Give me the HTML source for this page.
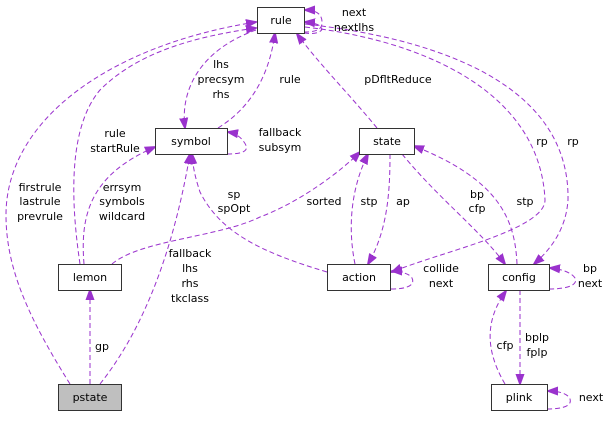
<!DOCTYPE html>
<html><head><meta charset="utf-8"><style>
html,body{margin:0;padding:0;background:#fff;}
svg text{font-family:"DejaVu Sans","Liberation Sans",sans-serif;font-size:11px;fill:#000;}
</style></head><body>
<svg width="609" height="416" viewBox="0 0 609 416" xmlns="http://www.w3.org/2000/svg">
<defs>
<marker id="a" markerWidth="11" markerHeight="10" refX="10" refY="5" orient="auto" markerUnits="userSpaceOnUse">
<path d="M0,1 L11,5 L0,9 Z" fill="#9a32cd" stroke="#9a32cd"/>
</marker>
</defs>
<g fill="none" stroke="#9a32cd" stroke-dasharray="5,3" stroke-width="1" marker-end="url(#a)">
<path d="M70,384 C30,320 6,270 6,215 C6,120 110,45 256,22"/>
<path d="M80,264 C72,210 66,130 100,90 C140,50 200,36 256,28"/>
<path d="M84,264 C80,215 90,175 155,147"/>
<path d="M256,30 C200,50 180,90 185,128"/>
<path d="M218,128 C255,105 270,70 275,33"/>
<path d="M227,154 C245,154 250,150 244,142 C240,136 234,133 228,132"/>
<path d="M304,32 C322,32 322,26 322,22 C322,14 316,10 305,10"/>
<path d="M304,33 C325,36 330,24 305,22"/>
<path d="M377,128 C350,95 320,65 297,34"/>
<path d="M305,27 C420,40 540,90 545,200 C545,230 440,252 392,272"/>
<path d="M305,24 C450,40 570,90 568,200 C566,230 550,250 534,264"/>
<path d="M112,264 C140,240 220,237 260,217 C300,202 340,172 360,152"/>
<path d="M355,264 C348,230 350,190 368,154"/>
<path d="M390,154 C390,190 388,230 368,264"/>
<path d="M402,154 C440,200 480,230 505,264"/>
<path d="M517,264 C515,220 500,180 414,146"/>
<path d="M100,384 C135,340 170,270 190,154"/>
<path d="M327,272 C260,252 220,232 200,192 C195,177 193,167 192,154"/>
<path d="M391,289 C410,289 415,284 412,278 C410,274 400,271 392,271"/>
<path d="M549,289 C570,289 578,284 575,278 C572,273 562,269 550,268"/>
<path d="M520,290 L520,384"/>
<path d="M505,384 C485,350 485,320 506,291"/>
<path d="M547,409 C565,409 572,405 570,399 C568,394 560,391 548,391"/>
<path d="M90,384 L90,290"/>
</g>
<g stroke="#333" stroke-width="1" fill="#fff">
<rect x="257.5" y="7.5" width="47" height="26"/>
<rect x="155.5" y="128.5" width="72" height="26"/>
<rect x="359.5" y="128.5" width="55" height="26"/>
<rect x="58.5" y="264.5" width="63" height="26"/>
<rect x="327.5" y="264.5" width="63" height="26"/>
<rect x="488.5" y="264.5" width="61" height="26"/>
<rect x="58.5" y="384.5" width="63" height="26" fill="#bfbfbf"/>
<rect x="491.5" y="384.5" width="56" height="26"/>
</g>
<g text-anchor="middle">
<text x="281" y="24">rule</text>
<text x="191" y="145">symbol</text>
<text x="387" y="145">state</text>
<text x="90" y="281">lemon</text>
<text x="359" y="281">action</text>
<text x="519" y="281">config</text>
<text x="90" y="401">pstate</text>
<text x="519" y="401">plink</text>
<text x="354" y="16">next</text>
<text x="354" y="31">nextlhs</text>
<text x="221" y="68">lhs</text>
<text x="221" y="83">precsym</text>
<text x="221" y="98">rhs</text>
<text x="290" y="83">rule</text>
<text x="398" y="83">pDfltReduce</text>
<text x="115" y="137">rule</text>
<text x="115" y="152">startRule</text>
<text x="280" y="136">fallback</text>
<text x="280" y="151">subsym</text>
<text x="542" y="145">rp</text>
<text x="573" y="145">rp</text>
<text x="40" y="191">firstrule</text>
<text x="40" y="205">lastrule</text>
<text x="40" y="220">prevrule</text>
<text x="122" y="191">errsym</text>
<text x="122" y="205">symbols</text>
<text x="122" y="220">wildcard</text>
<text x="234" y="198">sp</text>
<text x="234" y="212">spOpt</text>
<text x="324" y="205">sorted</text>
<text x="369" y="205">stp</text>
<text x="403" y="205">ap</text>
<text x="477" y="198">bp</text>
<text x="477" y="212">cfp</text>
<text x="525" y="205">stp</text>
<text x="190" y="257">fallback</text>
<text x="190" y="272">lhs</text>
<text x="190" y="287">rhs</text>
<text x="190" y="302">tkclass</text>
<text x="441" y="272">collide</text>
<text x="441" y="287">next</text>
<text x="590" y="272">bp</text>
<text x="590" y="287">next</text>
<text x="102" y="350">gp</text>
<text x="505" y="349">cfp</text>
<text x="537" y="341">bplp</text>
<text x="537" y="356">fplp</text>
<text x="591" y="401">next</text>
</g>
</svg>
</body></html>
